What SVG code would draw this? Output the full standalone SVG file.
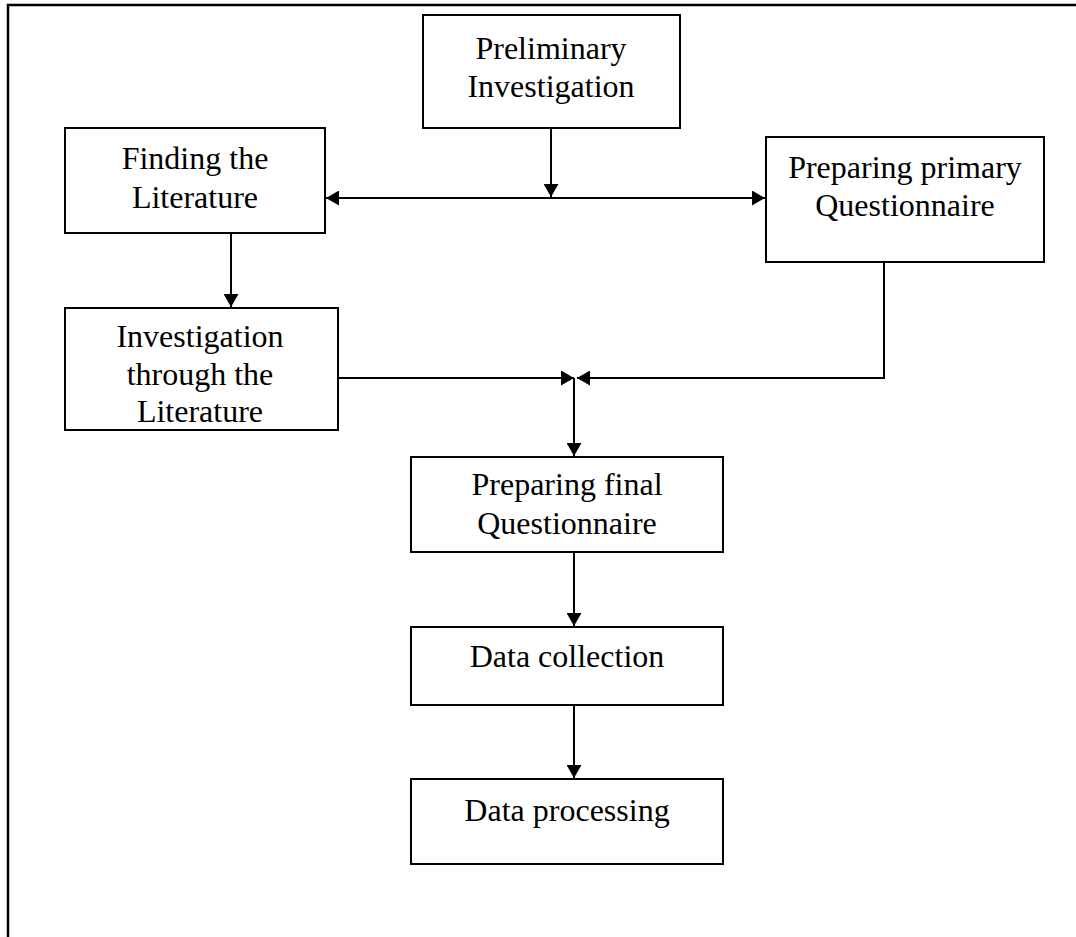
<svg xmlns="http://www.w3.org/2000/svg" width="1076" height="937" viewBox="0 0 1076 937">
<defs>
<style>
.box{fill:#fff;stroke:#000;stroke-width:2}
.t{font-family:"Liberation Serif","Times New Roman",serif;font-size:32px;fill:#000;text-anchor:middle}
.c{fill:none;stroke:#000;stroke-width:2}
</style>
<marker id="ah" markerUnits="userSpaceOnUse" markerWidth="14" markerHeight="15" refX="13" refY="7.5" orient="auto-start-reverse" viewBox="0 0 14 15">
<path d="M0,0 L13,7.5 L0,15 z" fill="#000"/>
</marker>
</defs>
<rect x="0" y="0" width="1076" height="937" fill="#fff"/>
<rect x="8" y="5" width="1090" height="1000" fill="none" stroke="#000" stroke-width="2.5"/>
<g id="connectors">
<path class="c" d="M551,128 V197" marker-end="url(#ah)"/>
<path class="c" d="M326,198 H765" marker-start="url(#ah)" marker-end="url(#ah)"/>
<path class="c" d="M231,233 V307" marker-end="url(#ah)"/>
<path class="c" d="M338,378 H574" marker-end="url(#ah)"/>
<path class="c" d="M884,262 V378 H577" marker-end="url(#ah)"/>
<path class="c" d="M574,378 V456" marker-end="url(#ah)"/>
<path class="c" d="M574,552 V626" marker-end="url(#ah)"/>
<path class="c" d="M574,705 V778" marker-end="url(#ah)"/>
</g>
<g id="n-preliminary">
<rect class="box" x="423" y="15" width="257" height="113"/>
<text class="t" x="551" y="59">Preliminary</text>
<text class="t" x="551" y="97">Investigation</text>
</g>
<g id="n-finding">
<rect class="box" x="65" y="128" width="260" height="105"/>
<text class="t" x="195" y="169">Finding the</text>
<text class="t" x="195" y="208">Literature</text>
</g>
<g id="n-primary">
<rect class="box" x="766" y="137" width="278" height="125"/>
<text class="t" x="905" y="178">Preparing primary</text>
<text class="t" x="905" y="216">Questionnaire</text>
</g>
<g id="n-investigation">
<rect class="box" x="65" y="308" width="273" height="122"/>
<text class="t" x="200" y="347">Investigation</text>
<text class="t" x="200" y="385">through the</text>
<text class="t" x="200" y="422">Literature</text>
</g>
<g id="n-final">
<rect class="box" x="411" y="457" width="312" height="95"/>
<text class="t" x="567" y="495">Preparing final</text>
<text class="t" x="567" y="534">Questionnaire</text>
</g>
<g id="n-collection">
<rect class="box" x="411" y="627" width="312" height="78"/>
<text class="t" x="567" y="667">Data collection</text>
</g>
<g id="n-processing">
<rect class="box" x="411" y="779" width="312" height="85"/>
<text class="t" x="567" y="821">Data processing</text>
</g>
</svg>
